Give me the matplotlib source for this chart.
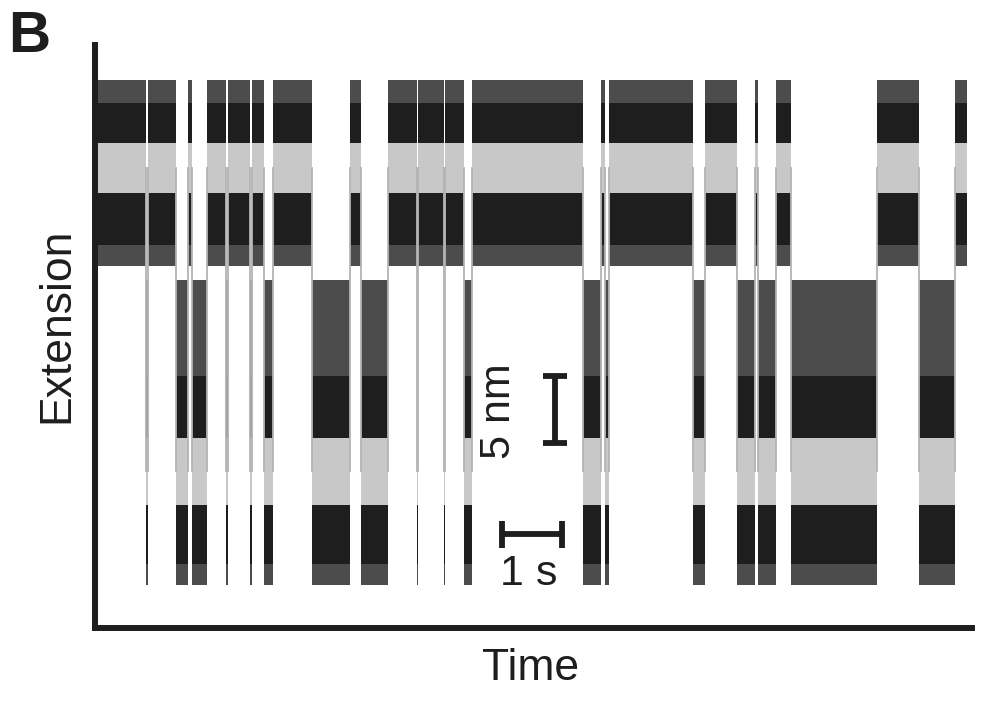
import matplotlib
matplotlib.use("Agg")
import matplotlib.pyplot as plt

# ---- data (time in s, extension in nm) ----
# boundaries of dwell segments; states alternate starting with the high state
boundaries = [0.03, 0.85, 0.88, 1.35, 1.55, 1.62, 1.87, 2.18, 2.22, 2.58, 2.62,
              2.82, 2.97, 3.62, 4.25, 4.43, 4.88, 5.37, 5.39, 5.81, 5.83, 6.15,
              6.28, 8.13, 8.43, 8.50, 8.57, 9.97, 10.17, 10.70, 11.00, 11.05,
              11.35, 11.60, 13.03, 13.73, 14.33, 14.53]
first_state = "H"

# envelope of each state (nm): raw spiky top, raw dense top,
# filtered top, filtered bottom, raw dense bottom, raw spiky bottom
high_env = [40.9, 39.2, 36.2, 32.5, 28.6, 27.0]
low_env = [26.0, 18.8, 14.2, 9.2, 4.8, 3.2]

scale_t, scale_e = 7.67, 13.8   # scale-bar anchor
scale_nm = 5
scale_s = 1

BLACK = "#1e1e1e"
GRAY = "#c8c8c8"
FRINGE = "#4c4c4c"

plt.rcParams["font.family"] = ["Liberation Sans", "DejaVu Sans"]

fig = plt.figure(figsize=(9.94, 7.03), dpi=100)
ax = fig.add_axes([95 / 994, 1 - 628 / 703, 877 / 994, 583 / 703])
ax.set_xlim(0, 877 / 60)
ax.set_ylim(0, 583 / 13.4)

state = first_state
prev_center = None
for t0, t1 in zip(boundaries[:-1], boundaries[1:]):
    env = high_env if state == "H" else low_env
    xs = [t0, t1]
    st, dt, gt, gb, db, sb = env
    ax.fill_between(xs, dt, st, color=FRINGE, lw=0)
    ax.fill_between(xs, db, dt, color=BLACK, lw=0)
    ax.fill_between(xs, sb, db, color=FRINGE, lw=0)
    ax.fill_between(xs, gb, gt, color=GRAY, lw=0)
    center = (gt + gb) / 2
    if prev_center is not None:
        ax.plot([t0, t0], [prev_center, center], color="#b4b4b4", lw=1.3)
    prev_center = center
    state = "L" if state == "H" else "H"

# scale bars
cap = 0.2
ax.plot([scale_t, scale_t], [scale_e, scale_e + scale_nm], color=BLACK, lw=4.2,
        solid_capstyle="butt")
for e in (scale_e, scale_e + scale_nm):
    ax.plot([scale_t - cap, scale_t + cap], [e, e], color=BLACK, lw=4.2,
            solid_capstyle="butt")
hb_e = 7.0
hb_t0 = 6.78
ax.plot([hb_t0, hb_t0 + scale_s], [hb_e, hb_e], color=BLACK, lw=4.2,
        solid_capstyle="butt")
for t in (hb_t0, hb_t0 + scale_s):
    ax.plot([t, t], [hb_e - 1.0, hb_e + 1.0], color=BLACK, lw=4.2,
            solid_capstyle="butt")

ax.text(scale_t - 0.93, scale_e + scale_nm / 2 - 0.1, f"{scale_nm} nm", rotation=90,
        ha="center", va="center", fontsize=31, color=BLACK)
ax.text(hb_t0 + scale_s / 2 - 0.05, hb_e - 3.0, f"{scale_s} s", ha="center",
        va="center", fontsize=31, color=BLACK)

for side in ("top", "right"):
    ax.spines[side].set_visible(False)
for side in ("left", "bottom"):
    ax.spines[side].set_linewidth(4.3)
    ax.spines[side].set_color(BLACK)
ax.set_xticks([])
ax.set_yticks([])

fig.text(57 / 994, 1 - 325 / 703, "Extension", rotation=90, ha="center",
         va="center", fontsize=32, color=BLACK)
fig.text(531 / 994, 1 - 668 / 703, "Time", ha="center", va="center",
         fontsize=32, color=BLACK)
fig.text(29 / 994, 1 - 37 / 703, "B", ha="center", va="center", fontsize=42,
         fontweight="bold", color=BLACK)

fig.savefig("out.png", dpi=100)
